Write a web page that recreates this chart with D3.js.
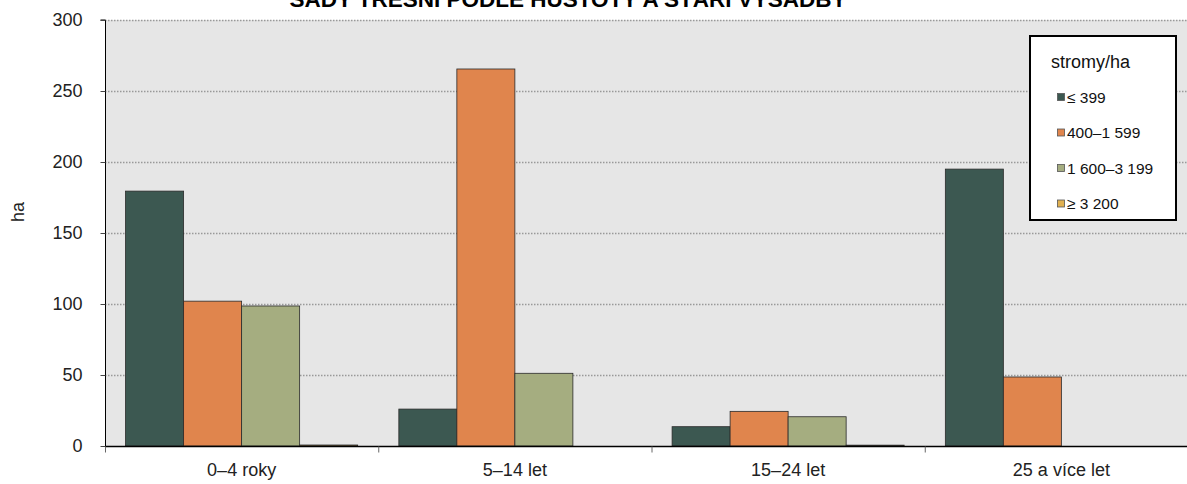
<!DOCTYPE html>
<html><head><meta charset="utf-8">
<script src="https://cdn.jsdelivr.net/npm/d3@7"></script>
<style>body{margin:0;background:#fff}svg{display:block;font-family:"Liberation Sans",Arial,sans-serif}</style>
</head><body>
<script>
const categories = ["0–4 roky", "5–14 let", "15–24 let", "25 a více let"];
const seriesNames = ["≤ 399", "400–1 599", "1 600–3 199", "≥ 3 200"];
const s399 = [179.5, 26, 13.6, 195];
const s400_1599 = [102, 265.5, 24.4, 48.6];
const s1600_3199 = [98.6, 51.2, 20.6, 0];
const s3200 = [0.7, 0, 0.6, 0];
const yTicks = [0, 50, 100, 150, 200, 250, 300];
const colors = ["#3c5851", "#e0854d", "#a5ad80", "#e0b050"];
const title = "SADY TŘEŠNÍ PODLE HUSTOTY A STÁŘÍ VÝSADBY";
const yLabel = "ha";
const legendTitle = "stromy/ha";

const series = [s399, s400_1599, s1600_3199, s3200];
const W = 1187, H = 484;
const m = {left: 105, top: 20, right: -11, bottom: 38};
const svg = d3.select("body").append("svg").attr("width", W).attr("height", H);

const x0 = d3.scaleBand().domain(categories).range([m.left, W - m.right]).paddingInner(0).paddingOuter(0);
const x1 = d3.scaleBand().domain(d3.range(series.length)).range([0, x0.bandwidth()]).paddingInner(0).paddingOuter(0.355);
const y = d3.scaleLinear().domain([0, 300]).range([H - m.bottom, m.top]);

svg.append("rect").attr("x", m.left).attr("y", m.top).attr("width", W - m.left).attr("height", y(0) - m.top).attr("fill", "#e6e6e6");

// gridlines
svg.append("g").selectAll("line").data(yTicks.filter(d => d > 0)).join("line")
  .attr("x1", m.left).attr("x2", W).attr("y1", d => y(d) + 0.5).attr("y2", d => y(d) + 0.5)
  .attr("stroke", "#999").attr("stroke-width", 1.3).attr("stroke-dasharray", "1.5,1.5");

// bars
const g = svg.append("g");
categories.forEach((c, i) => {
  series.forEach((s, j) => {
    const v = s[i];
    if (v <= 0) return;
    g.append("rect")
      .attr("x", x0(c) + x1(j)).attr("y", y(v))
      .attr("width", x1.bandwidth()).attr("height", y(0) - y(v))
      .attr("fill", colors[j]).attr("stroke", "#2a2a2a").attr("stroke-width", 0.8);
  });
});

const FONT = "Liberation Sans, Arial, sans-serif";
// y axis
const yAxis = d3.axisLeft(y).tickValues(yTicks).tickSize(5).tickPadding(18);
const ya = svg.append("g").attr("transform", `translate(${m.left + 0.5},0)`).call(yAxis);
ya.selectAll("text").attr("font-size", 18).attr("fill", "#222").attr("font-family", FONT);
ya.selectAll("line").attr("stroke", "#444");
ya.select(".domain").attr("stroke", "#000").attr("d", `M-5,${y(300)}H0V${y(0)}`);

// x axis
const xAxis = d3.axisBottom(x0).tickSize(0).tickPadding(17);
const xa = svg.append("g").attr("transform", `translate(0,${y(0) + 0.5})`).call(xAxis);
xa.selectAll("text").attr("font-size", 18).attr("fill", "#222").attr("font-family", FONT);
xa.select(".domain").attr("stroke", "#000").attr("stroke-width", 1.3).attr("d", `M${m.left},0H${W}`);
xa.selectAll(".bnd").data(categories).join("line").attr("class", "bnd")
  .attr("x1", d => x0(d) + 0.5).attr("x2", d => x0(d) + 0.5).attr("y1", 0).attr("y2", 6).attr("stroke", "#666");

// y label
svg.append("text").attr("transform", `translate(24,212) rotate(-90)`)
  .attr("text-anchor", "middle").attr("font-size", 18).attr("fill", "#222").text(yLabel);

// title
svg.append("text").attr("x", 568).attr("y", 7).attr("text-anchor", "middle")
  .attr("font-size", 22.5).attr("font-weight", "bold").attr("fill", "#000").text(title);

// legend
const lg = svg.append("g");
lg.append("rect").attr("x", 1030).attr("y", 36).attr("width", 146).attr("height", 184)
  .attr("fill", "#fff").attr("stroke", "#000").attr("stroke-width", 2);
lg.append("text").attr("x", 1051).attr("y", 68).attr("font-size", 18).attr("fill", "#111").text(legendTitle);
seriesNames.forEach((n, j) => {
  const yy = 97 + j * 35.5;
  lg.append("rect").attr("x", 1057.5).attr("y", yy - 3.5).attr("width", 7).attr("height", 7)
    .attr("fill", colors[j]).attr("stroke", "#555").attr("stroke-width", 0.8);
  lg.append("text").attr("x", 1067).attr("y", yy + 5.5).attr("font-size", 15.5).attr("fill", "#111").text(n);
});
</script>
</body></html>
